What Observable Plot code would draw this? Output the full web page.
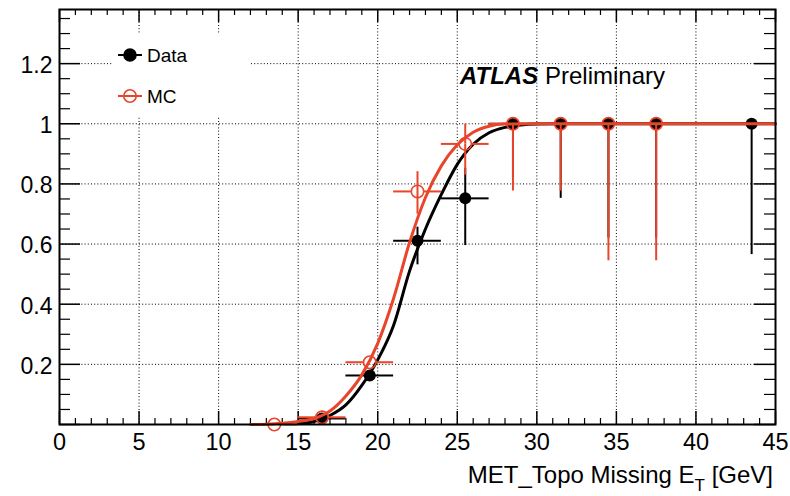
<!DOCTYPE html>
<html>
<head>
<meta charset="utf-8">
<script src="https://cdn.jsdelivr.net/npm/d3@7"></script>
<script src="https://cdn.jsdelivr.net/npm/@observablehq/plot@0.6"></script>
<style>
  html, body { margin: 0; padding: 0; background: #fff; }
  #chart { width: 790px; height: 496px; }
  svg { font-family: "Liberation Sans", Arial, Helvetica, sans-serif; }
</style>
</head>
<body>
<div id="chart"></div>
<script>
// Trigger efficiency vs. MET_Topo missing ET: data (black) and MC (red)
const RED = "#e8452a";

// Data points: bin centre, bin edges, efficiency, asymmetric errors
const dataX    = [16.5, 19.5, 22.5, 25.5, 28.5, 31.5, 34.5, 37.5, 43.5];
const dataXlo  = [15, 18, 21, 24, 27, 30, 33, 36, 42];
const dataXhi  = [18, 21, 24, 27, 30, 33, 36, 39, 45];
const dataEff  = [0.02, 0.163, 0.611, 0.752, 1, 1, 1, 1, 1];
const dataErrU = [0.008, 0.02, 0.045, 0.10, 0, 0, 0, 0, 0];
const dataErrD = [0.008, 0.02, 0.08, 0.157, 0.18, 0.248, 0.38, 0.38, 0.435];

// MC points
const mcX    = [13.5, 16.5, 19.5, 22.5, 25.5, 28.5, 31.5, 34.5, 37.5];
const mcXlo  = [12, 15, 18, 21, 24, 27, 30, 33, 36];
const mcXhi  = [15, 18, 21, 24, 27, 30, 33, 36, 39];
const mcEff  = [0.0, 0.024, 0.207, 0.775, 0.933, 1, 1, 1, 1];
const mcErrU = [0, 0.004, 0.01, 0.045, 0.045, 0, 0, 0, 0];
const mcErrD = [0, 0.004, 0.01, 0.055, 0.083, 0.203, 0.203, 0.435, 0.435];

// Fitted turn-on curves (sampled)
const fitDataX = [15, 16, 17, 18, 19, 20, 21, 22, 23, 24, 25, 26, 27, 28, 29, 30, 32, 45];
const fitDataY = [0.003, 0.01, 0.03, 0.065, 0.13, 0.215, 0.33, 0.51, 0.65, 0.765, 0.865, 0.932, 0.97, 0.988, 0.996, 0.999, 1, 1];
const fitMcX = [12, 13, 14, 15, 16, 17, 18, 19, 20, 21, 22, 23, 24, 25, 26, 27, 28, 30, 45];
const fitMcY = [0, 0.001, 0.004, 0.010, 0.02, 0.045, 0.095, 0.165, 0.27, 0.42, 0.605, 0.755, 0.86, 0.93, 0.972, 0.992, 0.999, 1, 1];

// Axis ticks
const xMajor = [0, 5, 10, 15, 20, 25, 30, 35, 40, 45];
const xGrid = [5, 10, 15, 20, 25, 30, 35, 40];
const xMinor = d3.range(0, 46, 1).filter(v => v % 5 !== 0);
const yMajor = [0, 0.2, 0.4, 0.6, 0.8, 1, 1.2];
const yLabels = [0.2, 0.4, 0.6, 0.8, 1, 1.2];
const yLabelText = ["0.2", "0.4", "0.6", "0.8", "1", "1.2"];
const yMinor = d3.range(1, 28).map(i => +(i * 0.05).toFixed(2)).filter(v => Math.round(v * 100) % 20 !== 0);

const toPoints = (xs, lo, hi, ys, eu, ed) =>
  xs.map((x, i) => ({x, xlo: lo[i], xhi: hi[i], y: ys[i], yhi: ys[i] + eu[i], ylo: ys[i] - ed[i]}));
const dataPts = toPoints(dataX, dataXlo, dataXhi, dataEff, dataErrU, dataErrD);
const mcPts = toPoints(mcX, mcXlo, mcXhi, mcEff, mcErrU, mcErrD);
const fitData = fitDataX.map((x, i) => ({x, y: fitDataY[i]}));
const fitMc = fitMcX.map((x, i) => ({x, y: fitMcY[i]}));

const W = 790, H = 496, mT = 9, mB = 72, mL = 59, mR = 15;
const innerH = H - mT - mB, innerW = W - mL - mR;
const R_DATA = 6, R_MC = 6.2;

// error bars drawn around a marker gap of radius r
function errorBars(pts, color, r) {
  const up = pts.filter(d => d.yhi > d.y + 0.025);
  const dn = pts.filter(d => d.ylo < d.y - 0.025);
  return [
    Plot.ruleY(pts, {y: "y", x1: "xlo", x2: "x", stroke: color, strokeWidth: 2, insetRight: r}),
    Plot.ruleY(pts, {y: "y", x1: "x", x2: "xhi", stroke: color, strokeWidth: 2, insetLeft: r}),
    Plot.ruleX(up, {x: "x", y1: "y", y2: "yhi", stroke: color, strokeWidth: 2, insetBottom: r}),
    Plot.ruleX(dn, {x: "x", y1: "ylo", y2: "y", stroke: color, strokeWidth: 2, insetTop: r})
  ];
}

const chart = Plot.plot({
  width: W, height: H,
  marginTop: mT, marginBottom: mB, marginLeft: mL, marginRight: mR,
  style: {fontFamily: '"Liberation Sans", Arial, Helvetica, sans-serif', background: "white", color: "black"},
  x: {domain: [0, 45]},
  y: {domain: [0, 1.38]},
  marks: [
    // dotted grid
    Plot.ruleX(xGrid, {x: d => d, stroke: "black", strokeWidth: 1, strokeDasharray: "1,2.2"}),
    Plot.ruleY(yLabels, {y: d => d, stroke: "black", strokeWidth: 1, strokeDasharray: "1,2.2"}),
    // inward ticks on all four sides
    Plot.tickX(xMajor, {x: d => d, stroke: "black", strokeWidth: 1.5, insetTop: innerH - 13}),
    Plot.tickX(xMinor, {x: d => d, stroke: "black", strokeWidth: 1.2, insetTop: innerH - 6}),
    Plot.tickX(xMajor, {x: d => d, stroke: "black", strokeWidth: 1.5, insetBottom: innerH - 13}),
    Plot.tickX(xMinor, {x: d => d, stroke: "black", strokeWidth: 1.2, insetBottom: innerH - 6}),
    Plot.tickY(yMajor, {y: d => d, stroke: "black", strokeWidth: 1.5, insetRight: innerW - 21}),
    Plot.tickY(yMinor, {y: d => d, stroke: "black", strokeWidth: 1.2, insetRight: innerW - 11}),
    Plot.tickY(yMajor, {y: d => d, stroke: "black", strokeWidth: 1.5, insetLeft: innerW - 21}),
    Plot.tickY(yMinor, {y: d => d, stroke: "black", strokeWidth: 1.2, insetLeft: innerW - 11}),
    Plot.axisX(xMajor, {tickSize: 0, tickPadding: 9, fontSize: 23.5, label: null}),
    Plot.axisY(yLabels, {tickSize: 0, tickPadding: 7, fontSize: 23, label: null, dy: 2,
      tickFormat: d => yLabelText[yLabels.indexOf(d)]}),
    // data
    ...errorBars(dataPts, "black", 0),
    Plot.dot(dataPts, {x: "x", y: "y", r: R_DATA, fill: "black", clip: false}),
    Plot.line(fitData, {x: "x", y: "y", stroke: "black", strokeWidth: 3, curve: "monotone-x"}),
    // MC
    ...errorBars(mcPts, RED, R_MC),
    Plot.dot(mcPts, {x: "x", y: "y", r: R_MC, stroke: RED, strokeWidth: 1.6, fill: "none", clip: false}),
    Plot.line(fitMc, {x: "x", y: "y", stroke: RED, strokeWidth: 3, curve: "monotone-x"}),
    Plot.frame({stroke: "black", strokeWidth: 2})
  ]
});

const svg = d3.select(chart);
const ann = svg.append("g")
  .attr("font-family", '"Liberation Sans", Arial, Helvetica, sans-serif')
  .attr("text-anchor", "start");

// legend
ann.append("rect").attr("x", 113).attr("y", 33).attr("width", 137).attr("height", 84).attr("fill", "white");
const legend = [
  {label: "Data", color: "black", filled: true, y: 55},
  {label: "MC", color: RED, filled: false, y: 96}
];
legend.forEach(l => {
  ann.append("line").attr("x1", 118).attr("x2", 142).attr("y1", l.y).attr("y2", l.y)
    .attr("stroke", l.color).attr("stroke-width", 2);
  ann.append("circle").attr("cx", 130).attr("cy", l.y).attr("r", l.filled ? R_DATA : R_MC)
    .attr("fill", l.filled ? l.color : "none").attr("stroke", l.color).attr("stroke-width", 1.6);
  ann.append("text").attr("x", 147).attr("y", l.y + 7).attr("font-size", 19).attr("fill", "black").text(l.label);
});

// experiment label
const atlas = ann.append("text").attr("y", 84).attr("font-size", 24).attr("fill", "black");
atlas.append("tspan").attr("x", 460).attr("font-weight", "bold").attr("font-style", "italic").text("ATLAS");
atlas.append("tspan").attr("x", 545).text("Preliminary");

// x-axis title
const title = ann.append("text").attr("x", 773).attr("y", 483).attr("text-anchor", "end")
  .attr("font-size", 24).attr("fill", "black");
title.append("tspan").text("MET_Topo Missing E");
title.append("tspan").attr("font-size", 17).attr("dy", 8).text("T");
title.append("tspan").attr("dy", -8).text(" [GeV]");

document.getElementById("chart").appendChild(chart);
</script>
</body>
</html>
